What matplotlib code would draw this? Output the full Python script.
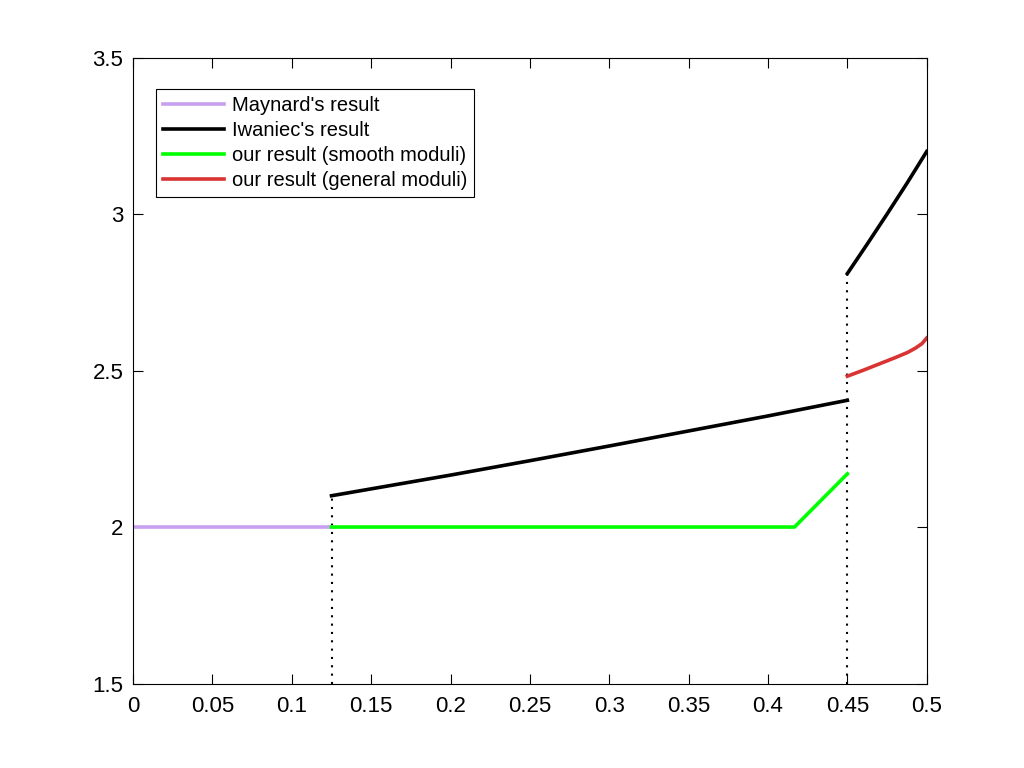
import numpy as np
import matplotlib.pyplot as plt

plt.rcParams['font.family'] = ['Liberation Sans', 'DejaVu Sans']

# Maynard's result
maynard_x = [0.0, 0.125]
maynard_y = [2.0, 2.0]

# Iwaniec's result (two pieces)
iwaniec1_x = [0.125, 0.2, 0.25, 0.3, 0.35, 0.4, 0.45]
iwaniec1_y = [2.100, 2.166, 2.212, 2.259, 2.307, 2.355, 2.405]
iwaniec2_x = [0.45, 0.4625, 0.475, 0.4875, 0.5]
iwaniec2_y = [2.810, 2.904, 3.000, 3.098, 3.200]

# our result (smooth moduli)
smooth_x = [0.125, 0.4167, 0.45]
smooth_y = [2.0, 2.0, 2.17]

# our result (general moduli)
general_x = [0.45, 0.46, 0.47, 0.48, 0.488, 0.493, 0.497, 0.5]
general_y = [2.482, 2.501, 2.521, 2.541, 2.558, 2.572, 2.586, 2.604]

# dotted guide lines
guide_x = [0.125, 0.45]
guide_top = [2.100, 2.810]

xticks = [0, 0.05, 0.1, 0.15, 0.2, 0.25, 0.3, 0.35, 0.4, 0.45, 0.5]
yticks = [1.5, 2, 2.5, 3, 3.5]

fig = plt.figure(figsize=(10.24, 7.68), dpi=100)
ax = fig.add_axes([0.13, 0.11, 0.775, 0.815])

lw = 2.6
ax.plot(maynard_x, maynard_y, color='#C8A0F0', lw=lw, label="Maynard's result")
ax.plot(iwaniec1_x, iwaniec1_y, color='black', lw=lw, label="Iwaniec's result")
ax.plot(iwaniec2_x, iwaniec2_y, color='black', lw=lw)
ax.plot(smooth_x, smooth_y, color='#00FF00', lw=lw, label='our result (smooth moduli)')
ax.plot(general_x, general_y, color='#D93333', lw=lw, label='our result (general moduli)')

for gx, gt in zip(guide_x, guide_top):
    ax.plot([gx, gx], [1.5, gt], color='black', lw=1.5, linestyle=(0, (1, 3)), zorder=1)

ax.set_xlim(0, 0.5)
ax.set_ylim(1.5, 3.5)
ax.set_xticks(xticks)
ax.set_yticks(yticks)
ax.set_xticklabels(['%g' % t for t in xticks])
ax.set_yticklabels(['%g' % t for t in yticks])
ax.tick_params(direction='in', top=True, right=True, labelsize=16, length=7, width=0.8, pad=7)
ax.tick_params(axis='x', pad=9)
for s in ax.spines.values():
    s.set_linewidth(0.8)

leg = ax.legend(loc='upper left', bbox_to_anchor=(0.029, 0.950), fontsize=14.5,
                frameon=True, fancybox=False, edgecolor='black', framealpha=1,
                handlelength=3.0, handletextpad=0.4, borderpad=0.35, labelspacing=0.3,
                borderaxespad=0)
leg.get_frame().set_linewidth(0.8)

fig.savefig('out.png', dpi=100)
